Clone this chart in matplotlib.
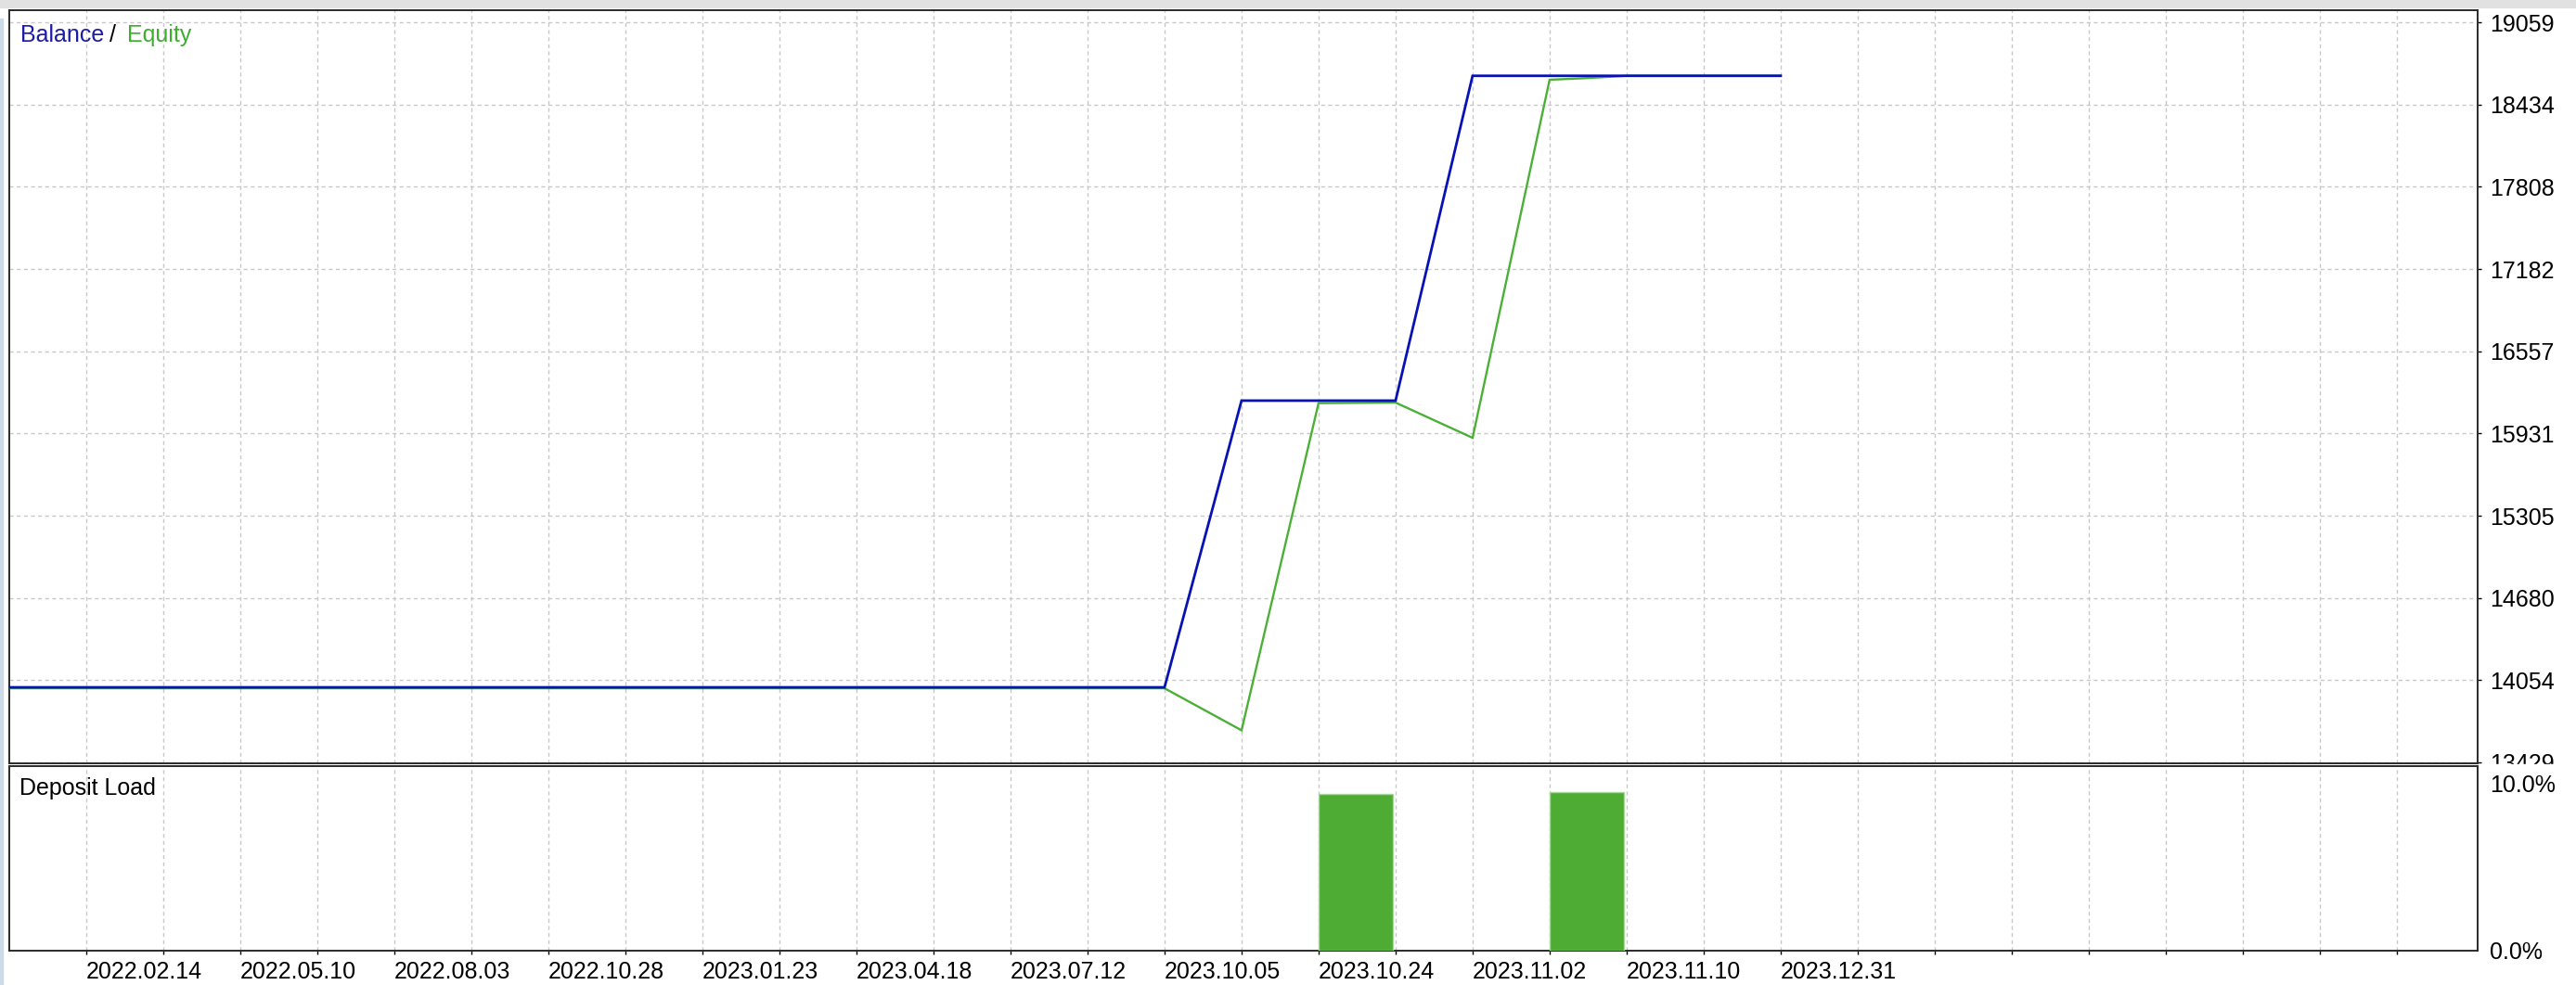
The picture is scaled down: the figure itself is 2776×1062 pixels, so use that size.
import matplotlib
matplotlib.use('Agg')
import matplotlib.pyplot as plt
from matplotlib.patches import Rectangle
from matplotlib.transforms import ScaledTranslation

plt.rcParams['font.family'] = ['Liberation Sans', 'DejaVu Sans']

W, H = 2776, 1062

# x is counted in grid steps of the tester chart
grid_pos = list(range(1, 32))
date_pos = [1, 3, 5, 7, 9, 11, 13, 15, 17, 19, 21, 23]
date_labels = ['2022.02.14', '2022.05.10', '2022.08.03', '2022.10.28', '2023.01.23',
               '2023.04.18', '2023.07.12', '2023.10.05', '2023.10.24', '2023.11.02',
               '2023.11.10', '2023.12.31']

balance_x = [0, 15, 16, 18, 19, 23]
balance_y = [14000, 14000, 16181, 16181, 18652, 18652]

equity_x = [0, 15, 16, 17, 18, 19, 20, 20.5, 21, 23]
equity_y = [13993, 13993, 13673, 16162, 16166, 15898, 18622, 18635, 18652, 18652]

load_x = [17, 20]
load_pct = [8.5, 8.6]

y_ticks = [13429, 14054, 14680, 15305, 15931, 16557, 17182, 17808, 18434, 19059]
load_ticks = [0, 10]
load_labels = ['0.0%', '10.0%']

blue = '#0812B4'
green = '#4AB036'
grid_kw = dict(color='#c8c8c8', linestyle=(0, (3, 2.5)), linewidth=1.0)
fs = 18

fig = plt.figure(figsize=(W / 100, H / 100), dpi=100)

# window chrome
fig.add_artist(Rectangle((0, 1 - 8 / H), 1, 8 / H, transform=fig.transFigure,
                         color='#e1e1e1', zorder=-5))
fig.add_artist(Rectangle((0, 0), 3 / W, 1 - 20 / H, transform=fig.transFigure,
                         color='#cddbe9', zorder=-5))

left, right = 10, 2670
ax = fig.add_axes([left / W, 1 - 822.7 / H, (right - left) / W, (822.7 - 11) / H])
ax2 = fig.add_axes([left / W, 1 - 1025 / H, (right - left) / W, (1025 - 825.7) / H])

# balance / equity
ax.plot(equity_x, equity_y, color=green, lw=1.7, solid_joinstyle='miter', zorder=3)
ax.plot(balance_x, balance_y, color=blue, lw=2.0, solid_joinstyle='miter', zorder=4)
ax.set_xlim(0, 32.05)
ax.set_ylim(13424, 19151)
ax.set_xticks(grid_pos)
ax.set_xticklabels([])
ax.tick_params(axis='x', length=0)
ax.yaxis.tick_right()
ax.set_yticks(y_ticks)
ax.set_yticklabels([str(v) for v in y_ticks])
ax.tick_params(axis='y', length=3, width=1, pad=6.5, labelsize=fs, colors='#000000')
ax.grid(True, **grid_kw)
ax.set_axisbelow(True)

# deposit load
ax2.bar(load_x, load_pct, width=0.96, align='edge', color='#4EAB34',
        edgecolor='#a5d99a', linewidth=1.0, zorder=3)
ax2.set_xlim(0, 32.05)
ax2.set_ylim(0, 10)
ax2.set_xticks(grid_pos)
ax2.set_xticklabels([date_labels[date_pos.index(p)] if p in date_pos else '' for p in grid_pos],
                    ha='left')
ax2.tick_params(axis='x', length=3, width=1, pad=5, labelsize=fs)
ax2.yaxis.tick_right()
ax2.set_yticks(load_ticks)
ax2.set_yticklabels(load_labels)
ax2.tick_params(axis='y', length=0, pad=9.4, labelsize=fs)
ax2.grid(True, axis='x', **grid_kw)
ax2.set_axisbelow(True)
top_lbl = ax2.get_yticklabels()[1]
top_lbl.set_va('top')
top_lbl.set_transform(top_lbl.get_transform() + ScaledTranslation(0, -9 / 100, fig.dpi_scale_trans))

for a in (ax, ax2):
    for s in a.spines.values():
        s.set_color('#2a2a2a')
        s.set_linewidth(1.4)

# the lowest balance label is cut by the lower panel
fig.add_artist(Rectangle((2673 / W, 1 - 833 / H), (W - 2673) / W, 9.5 / H,
                         transform=fig.transFigure, color='white', zorder=5))

# panel captions
fig.text(22 / W, 1 - 38 / H, 'Balance', color='#1c1ca8', fontsize=fs, va='center')
fig.text(118 / W, 1 - 38 / H, '/', color='#000000', fontsize=fs, va='center')
fig.text(137 / W, 1 - 38 / H, 'Equity', color='#3caf2f', fontsize=fs, va='center')
fig.text(21 / W, 1 - 850 / H, 'Deposit Load', color='#000000', fontsize=fs, va='center')

fig.savefig('out.png', dpi=100, facecolor='white')
